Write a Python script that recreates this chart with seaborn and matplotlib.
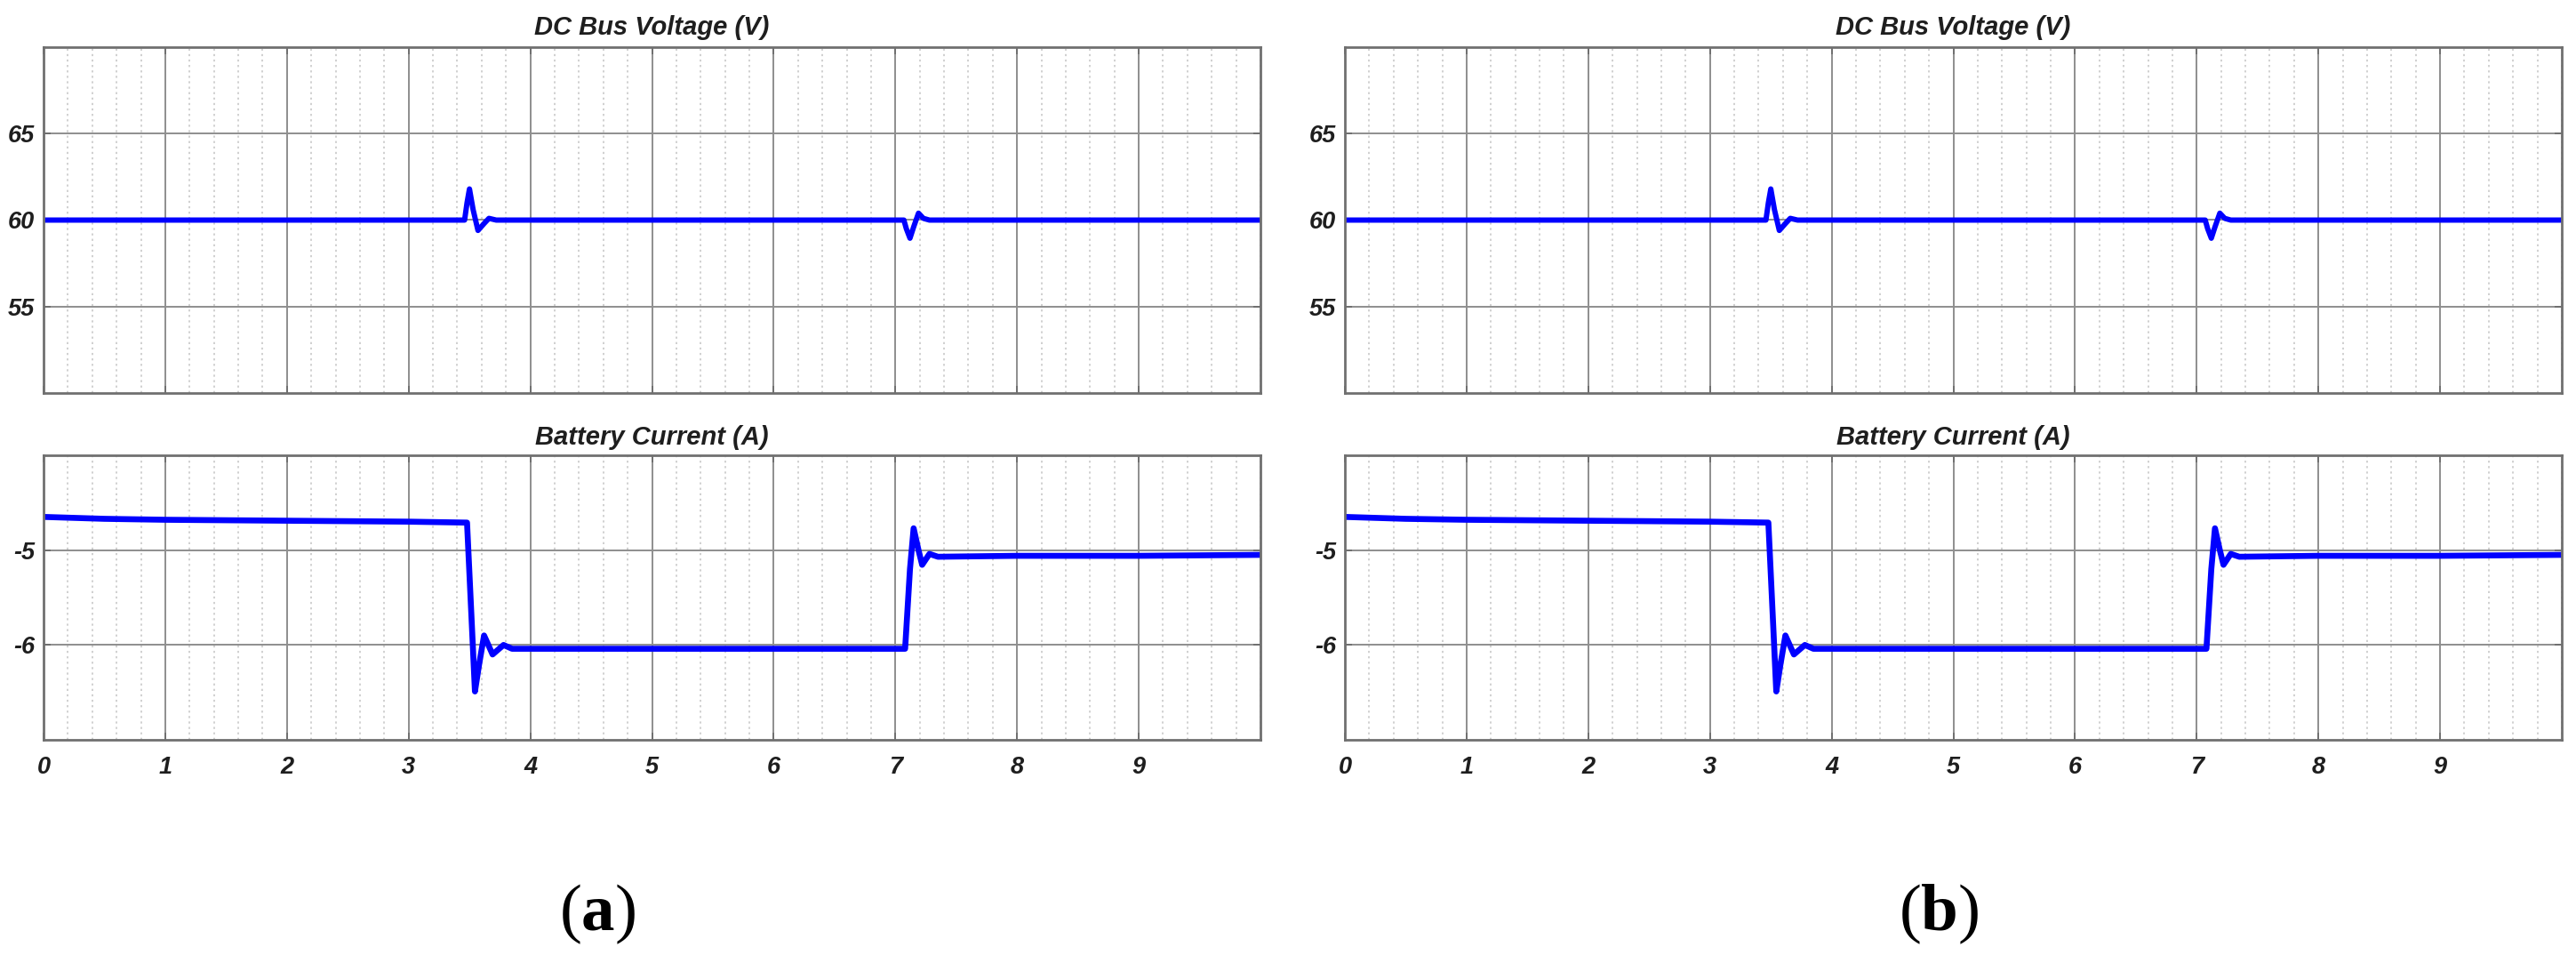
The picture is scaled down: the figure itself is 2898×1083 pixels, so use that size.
import numpy as np
import pandas as pd
import matplotlib
matplotlib.use("Agg")
import matplotlib.pyplot as plt
import seaborn as sns

# ---------------- data ----------------
volt_t = [0.0, 1.0, 2.0, 3.0, 3.46, 3.48, 3.50, 3.53, 3.57, 3.62, 3.66, 3.72,
          4.5, 5.5, 6.5, 7.07, 7.09, 7.12, 7.15, 7.19, 7.23, 7.28, 8.0, 9.0, 10.0]
volt_v = [60.0, 60.0, 60.0, 60.0, 60.0, 61.0, 61.8, 60.6, 59.4, 59.8, 60.1, 60.0,
          60.0, 60.0, 60.0, 60.0, 59.5, 58.95, 59.6, 60.4, 60.1, 60.0, 60.0, 60.0, 60.0]

curr_t = [0.0, 0.5, 1.0, 2.0, 3.0, 3.48, 3.52, 3.545, 3.58, 3.62, 3.69, 3.78,
          3.85, 4.5, 5.5, 6.5, 7.08, 7.12, 7.15, 7.19, 7.22, 7.28, 7.35, 8.0, 9.0, 10.0]
curr_i = [-4.65, -4.67, -4.68, -4.69, -4.70, -4.71, -5.80, -6.49, -6.20, -5.90, -6.10, -6.00,
          -6.04, -6.04, -6.04, -6.04, -6.04, -5.20, -4.77, -5.00, -5.155, -5.04, -5.07, -5.06, -5.06, -5.05]

volt_title = "DC Bus Voltage (V)"
curr_title = "Battery Current (A)"
volt_ticks = [55, 60, 65]
curr_ticks = [-5, -6]
x_ticks = [0, 1, 2, 3, 4, 5, 6, 7, 8, 9]
panel_labels = ["a", "b"]

# ---------------- style ----------------
sns.set_style("white")
plt.rcParams["font.family"] = ["Liberation Sans", "DejaVu Sans"]
plt.rcParams["mathtext.fontset"] = "custom"
plt.rcParams["mathtext.rm"] = "Liberation Serif"
plt.rcParams["mathtext.bf"] = "Liberation Serif:bold"

W, H, DPI = 2898, 1083, 100
fig = plt.figure(figsize=(W / DPI, H / DPI), dpi=DPI)
fig.patch.set_facecolor("white")

frame_c = "#707070"
major_c = "#8e8e8e"
minor_c = "#c4c4c4"
text_c = "#1e1e1e"
line_c = "#0000ff"

vdf = pd.DataFrame({"t": volt_t, "v": volt_v})
cdf = pd.DataFrame({"t": curr_t, "i": curr_i})


def px_rect(x0, y0, x1, y1):
    return [x0 / W, 1 - y1 / H, (x1 - x0) / W, (y1 - y0) / H]


def style_axes(ax, yticks, ylim, show_xlabels):
    ax.set_xlim(0, 10)
    ax.set_ylim(*ylim)
    ax.set_xticks(x_ticks)
    ax.set_xticks(np.arange(0, 10.01, 0.2), minor=True)
    ax.set_yticks(yticks)
    ax.grid(which="major", axis="both", color=major_c, lw=1.4, ls="-")
    ax.grid(which="minor", axis="x", color=minor_c, lw=1.1, ls=(0, (1.5, 2.5)))
    ax.set_axisbelow(True)
    for s in ax.spines.values():
        s.set_color(frame_c)
        s.set_linewidth(2.0)
        s.set_visible(True)
    ax.tick_params(which="major", direction="in", length=6, width=1.4, color=frame_c,
                   top=True, right=True, bottom=True, left=True,
                   labelsize=19.5, labelcolor=text_c)
    ax.tick_params(axis="y", which="major", pad=7)
    ax.tick_params(axis="x", which="major", pad=13)
    ax.tick_params(which="minor", length=0)
    if show_xlabels:
        ax.set_xticklabels([str(v) for v in x_ticks])
    else:
        ax.set_xticklabels([])
    ax.set_yticklabels([str(v) for v in yticks])
    for lab in ax.get_xticklabels() + ax.get_yticklabels():
        lab.set_fontstyle("italic")
        lab.set_fontweight("bold")
    ax.set_xlabel("")
    ax.set_ylabel("")


panels = [(49, 1418), (1513, 2882)]
for k, (x0, x1) in enumerate(panels):
    ax_v = fig.add_axes(px_rect(x0, 53, x1, 442))
    sns.lineplot(data=vdf, x="t", y="v", ax=ax_v, color=line_c, lw=4.3, estimator=None, sort=False)
    style_axes(ax_v, volt_ticks, (50, 70), False)
    ax_v.set_title(volt_title, fontsize=21, fontweight="bold", fontstyle="italic",
                   color=text_c, pad=10)

    ax_c = fig.add_axes(px_rect(x0, 512, x1, 832))
    sns.lineplot(data=cdf, x="t", y="i", ax=ax_c, color=line_c, lw=4.8, estimator=None, sort=False)
    style_axes(ax_c, curr_ticks, (-7, -4), True)
    ax_c.set_title(curr_title, fontsize=21, fontweight="bold", fontstyle="italic",
                   color=text_c, pad=8.5)

label_x = [672, 2181]
for k, lab in enumerate(panel_labels):
    fig.text(label_x[k] / W, 1 - 1028 / H, r"$\mathrm{(}\mathbf{%s}\mathrm{)}$" % lab,
             ha="center", va="center", fontsize=54, color="black")

fig.savefig("out.png", dpi=DPI, facecolor="white")
